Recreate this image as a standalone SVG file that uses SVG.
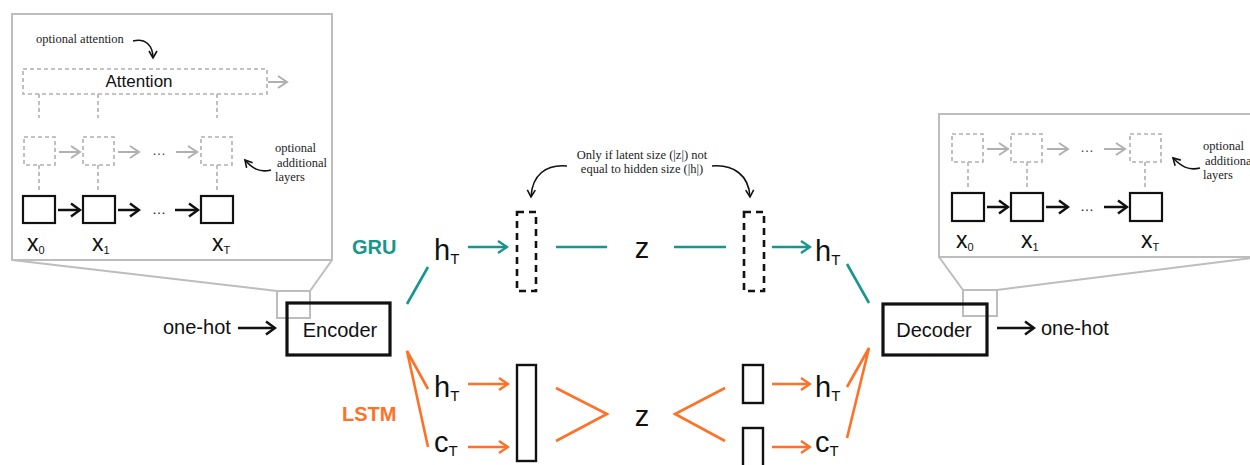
<svg xmlns="http://www.w3.org/2000/svg" width="1250" height="465" viewBox="0 0 1250 465">
<style>
  .panel{fill:#fff;stroke:#bdbdbd;stroke-width:2}
  .zoomline{fill:none;stroke:#bdbdbd;stroke-width:2}
  .gbox{fill:none;stroke:#b0b0b0;stroke-width:1.6;stroke-dasharray:4 3}
  .gdash{fill:none;stroke:#b0b0b0;stroke-width:1.6;stroke-dasharray:4 3}
  .garrow{fill:none;stroke:#b0b0b0;stroke-width:2;marker-end:url(#mg)}
  .bbox{fill:#fff;stroke:#111;stroke-width:2.2}
  .barrow{fill:none;stroke:#111;stroke-width:2.5;marker-end:url(#mb)}
  .big{fill:#fff;stroke:#111;stroke-width:3.2}
  .dashbox{fill:none;stroke:#111;stroke-width:2.6;stroke-dasharray:7 5}
  .vec{fill:none;stroke:#111;stroke-width:2.4}
  .teal{fill:none;stroke:#17968f;stroke-width:2.6}
  .tarrow{fill:none;stroke:#17968f;stroke-width:2.6;marker-end:url(#mt)}
  .orange{fill:none;stroke:#ff7126;stroke-width:2.6}
  .oarrow{fill:none;stroke:#ff7126;stroke-width:2.6;marker-end:url(#mo)}
  .curve{fill:none;stroke:#111;stroke-width:1.6;marker-end:url(#mc)}
  .sans{font-family:"Liberation Sans",Arial,sans-serif;fill:#111}
  .serif{font-family:"Liberation Serif","Times New Roman",serif;fill:#222;font-size:12.5px}
  .xl{font-size:23px}
  .sub{font-size:11px}
  .math{font-size:29px}
  .msub{font-size:15px}
</style>
<defs>
  <marker id="mg" markerUnits="userSpaceOnUse" markerWidth="12" markerHeight="14" refX="10" refY="7" orient="auto" viewBox="0 0 12 14"><path d="M1,1 L10,7 L1,13" fill="none" stroke="#b0b0b0" stroke-width="2"/></marker>
  <marker id="mb" markerUnits="userSpaceOnUse" markerWidth="12" markerHeight="16" refX="10" refY="8" orient="auto" viewBox="0 0 12 16"><path d="M1,1.5 L10,8 L1,14.5" fill="none" stroke="#111" stroke-width="2.5"/></marker>
  <marker id="mt" markerUnits="userSpaceOnUse" markerWidth="12" markerHeight="14" refX="10" refY="7" orient="auto" viewBox="0 0 12 14"><path d="M1,1 L10,7 L1,13" fill="none" stroke="#17968f" stroke-width="2.4"/></marker>
  <marker id="mo" markerUnits="userSpaceOnUse" markerWidth="12" markerHeight="14" refX="10" refY="7" orient="auto" viewBox="0 0 12 14"><path d="M1,1 L10,7 L1,13" fill="none" stroke="#ff7126" stroke-width="2.4"/></marker>
  <marker id="mc" markerUnits="userSpaceOnUse" markerWidth="10" markerHeight="10" refX="8" refY="5" orient="auto" viewBox="0 0 10 10"><path d="M1,1 L8,5 L1,9" fill="none" stroke="#111" stroke-width="1.6"/></marker>
</defs>
<rect width="1250" height="465" fill="#fff"/>

<!-- Encoder zoom panel -->
<g id="encoder-panel">
  <rect class="panel" x="12" y="14" width="320" height="246"/>
  <path class="zoomline" d="M12,260 L277,291 M332,260 L310,291"/>
  <rect class="zoomline" x="277" y="291" width="33" height="27"/>
  <text class="serif" x="36" y="43">optional attention</text>
  <path class="curve" d="M133,41 C145,38 153,45 153,58"/>
  <rect class="gbox" x="23" y="69" width="244" height="25"/>
  <text class="sans" x="139" y="87" font-size="17" text-anchor="middle">Attention</text>
  <path class="garrow" d="M268,82 L287,82"/>
  <path class="gdash" d="M39,94 V118 M98,94 V118 M217,94 V118"/>
  <rect class="gbox" x="24" y="137" width="31" height="28"/>
  <rect class="gbox" x="83" y="137" width="31" height="28"/>
  <rect class="gbox" x="201" y="137" width="31" height="28"/>
  <path class="garrow" d="M59,152 L80,152"/>
  <path class="garrow" d="M118,152 L139,152"/>
  <text class="sans" x="159" y="155" font-size="14" fill="#555" text-anchor="middle" style="fill:#444">…</text>
  <path class="garrow" d="M176,152 L197,152"/>
  <path class="gdash" d="M39,165 V192 M98,165 V192 M217,165 V192"/>
  <text class="serif" x="275" y="152">optional</text>
  <text class="serif" x="277" y="167">additional</text>
  <text class="serif" x="275" y="181">layers</text>
  <path class="curve" d="M271,170 C259,173 252,168 245,160"/>
  <rect class="bbox" x="23" y="196" width="32" height="27"/>
  <rect class="bbox" x="83" y="196" width="32" height="27"/>
  <rect class="bbox" x="201" y="196" width="32" height="27"/>
  <path class="barrow" d="M58,210 L80,210"/>
  <path class="barrow" d="M118,210 L139,210"/>
  <text class="sans" x="159" y="214" font-size="14" text-anchor="middle">…</text>
  <path class="barrow" d="M175,210 L198,210"/>
  <text class="sans xl" x="27" y="251">x<tspan class="sub" dy="3">0</tspan></text>
  <text class="sans xl" x="92" y="251">x<tspan class="sub" dy="3">1</tspan></text>
  <text class="sans xl" x="212" y="251">x<tspan class="sub" dy="3">T</tspan></text>
</g>

<!-- Decoder zoom panel -->
<g id="decoder-panel">
  <rect class="panel" x="939" y="114" width="330" height="143"/>
  <path class="zoomline" d="M939,257 L963,290 M1252,258 L997,290"/>
  <rect class="zoomline" x="963" y="290" width="34" height="26"/>
  <rect class="gbox" x="952" y="134" width="31" height="28"/>
  <rect class="gbox" x="1011" y="134" width="31" height="28"/>
  <rect class="gbox" x="1130" y="134" width="31" height="28"/>
  <path class="garrow" d="M987,149 L1008,149"/>
  <path class="garrow" d="M1047,149 L1068,149"/>
  <text class="sans" x="1087" y="152" font-size="14" text-anchor="middle" style="fill:#444">…</text>
  <path class="garrow" d="M1104,149 L1125,149"/>
  <path class="gdash" d="M968,162 V190 M1027,162 V190 M1145,162 V190"/>
  <text class="serif" x="1203" y="150">optional</text>
  <text class="serif" x="1205" y="165">additional</text>
  <text class="serif" x="1203" y="179">layers</text>
  <path class="curve" d="M1200,168 C1188,171 1181,166 1173,158"/>
  <rect class="bbox" x="952" y="193" width="32" height="28"/>
  <rect class="bbox" x="1011" y="193" width="32" height="28"/>
  <rect class="bbox" x="1130" y="193" width="32" height="28"/>
  <path class="barrow" d="M987,207 L1008,207"/>
  <path class="barrow" d="M1046,207 L1068,207"/>
  <text class="sans" x="1087" y="211" font-size="14" text-anchor="middle">…</text>
  <path class="barrow" d="M1104,207 L1127,207"/>
  <text class="sans xl" x="956" y="248">x<tspan class="sub" dy="3">0</tspan></text>
  <text class="sans xl" x="1021" y="248">x<tspan class="sub" dy="3">1</tspan></text>
  <text class="sans xl" x="1141" y="248">x<tspan class="sub" dy="3">T</tspan></text>
</g>

<!-- Encoder -->
<g id="encoder">
  <rect class="big" x="287" y="303" width="103" height="52" fill="none" style="fill:none"/>
  <text class="sans" x="340" y="337" font-size="20" text-anchor="middle">Encoder</text>
</g>
<g id="input-onehot">
  <text class="sans" x="163" y="334" font-size="20">one-hot</text>
</g>

<!-- Decoder -->
<g id="decoder">
  <rect class="big" x="883" y="304" width="104" height="51" style="fill:none"/>
  <text class="sans" x="934" y="337" font-size="20" text-anchor="middle">Decoder</text>
</g>
<g id="output-onehot">
  <text class="sans" x="1041" y="335" font-size="20">one-hot</text>
</g>

<!-- GRU path -->
<g id="gru-label"><text class="sans" x="352" y="254" font-size="20" font-weight="bold" style="fill:#17968f">GRU</text></g>
<g id="gru-enc-h"><text class="sans math" x="434" y="260">h<tspan class="msub" dy="4">T</tspan></text></g>
<g id="gru-enc-proj"><rect class="dashbox" x="517" y="212" width="19" height="79"/></g>
<g id="gru-z"><text class="sans math" x="642" y="258" text-anchor="middle">z</text></g>
<g id="gru-dec-proj"><rect class="dashbox" x="744" y="212" width="20" height="79"/></g>
<g id="gru-dec-h"><text class="sans math" x="815" y="261">h<tspan class="msub" dy="4">T</tspan></text></g>
<g id="annotation">
  <text class="serif" x="642" y="159" text-anchor="middle">Only if latent size (|z|) not</text>
  <text class="serif" x="642" y="173" text-anchor="middle">equal to hidden size (|h|)</text>
</g>

<!-- LSTM path -->
<g id="lstm-label"><text class="sans" x="342" y="421" font-size="20" font-weight="bold" style="fill:#ff7126">LSTM</text></g>
<g id="lstm-enc-h"><text class="sans math" x="434" y="397">h<tspan class="msub" dy="4">T</tspan></text></g>
<g id="lstm-enc-c"><text class="sans math" x="434" y="452">c<tspan class="msub" dy="4">T</tspan></text></g>
<g id="lstm-enc-vec"><rect class="vec" x="517" y="365" width="19" height="96"/></g>
<g id="lstm-z"><text class="sans math" x="642" y="426" text-anchor="middle">z</text></g>
<g id="lstm-dec-hvec"><rect class="vec" x="743" y="365" width="20" height="38"/></g>
<g id="lstm-dec-cvec"><rect class="vec" x="743" y="428" width="20" height="45"/></g>
<g id="lstm-dec-h"><text class="sans math" x="815" y="397">h<tspan class="msub" dy="4">T</tspan></text></g>
<g id="lstm-dec-c"><text class="sans math" x="815" y="452">c<tspan class="msub" dy="4">T</tspan></text></g>

<!-- Connectors -->
<g id="connectors">
  <path class="barrow" d="M238,328 L275,328"/>
  <path class="barrow" d="M997,328 L1034,328"/>
  <path class="curve" d="M567,166 C546,164 532,175 531,197"/>
  <path class="curve" d="M712,166 C733,164 749,175 750,197"/>
  <path class="teal" d="M407,304 L428,267"/>
  <path class="tarrow" d="M468,247 L507,247"/>
  <path class="teal" d="M556,247 L607,247 M674,247 L726,247"/>
  <path class="tarrow" d="M772,247 L810,247"/>
  <path class="teal" d="M847,264 L869,303"/>
  <path class="orange" d="M428,389 L407,351 L428,447"/>
  <path class="oarrow" d="M468,384 L508,384"/>
  <path class="oarrow" d="M468,447 L508,447"/>
  <path class="orange" d="M556,388 L607,414 L556,441"/>
  <path class="orange" d="M725,388 L675,414 L725,441"/>
  <path class="oarrow" d="M772,384 L810,384"/>
  <path class="oarrow" d="M772,447 L810,447"/>
  <path class="orange" d="M847,387 L869,348 L847,438"/>
</g>
</svg>
